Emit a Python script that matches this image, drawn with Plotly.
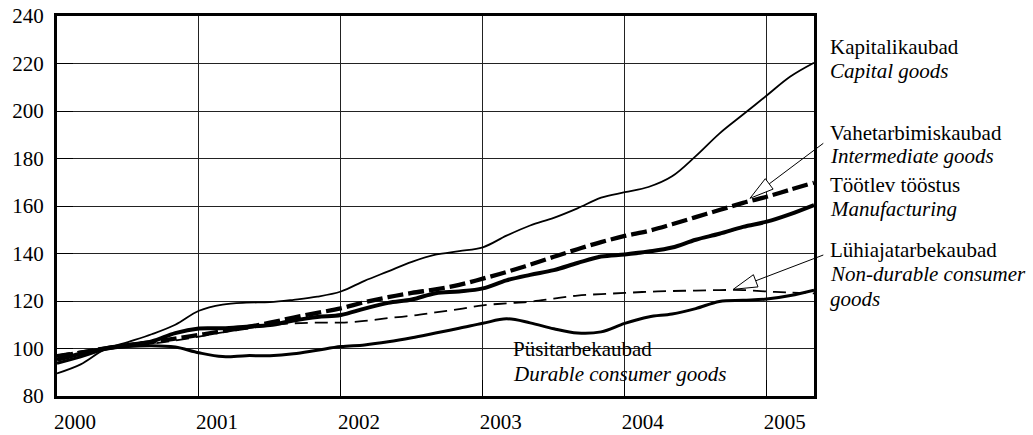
import plotly.graph_objects as go

# ---- data (index 2000 = 100), every second month from Jan 2000 ----
months = list(range(0, 65, 2))
capital = [89.5, 93.3, 99.5, 102.7, 106.0, 110.0, 115.9, 118.5, 119.3, 119.5, 120.5,
           121.8, 124.0, 128.5, 132.5, 136.5, 139.5, 141.0, 142.6, 147.5, 151.8, 155.0,
           159.0, 163.5, 165.8, 168.0, 172.5, 181.0, 190.5, 198.5, 206.5, 214.5, 220.3]
intermediate = [96.5, 98.3, 100.0, 101.3, 102.7, 104.2, 105.7, 107.3, 108.9, 110.9, 113.0,
                115.0, 116.9, 119.5, 121.6, 123.4, 124.9, 126.8, 129.4, 132.2, 135.3, 138.6,
                141.8, 144.8, 147.4, 149.5, 152.3, 155.3, 158.3, 161.3, 163.9, 166.9, 169.8]
manufacturing = [95.2, 97.8, 100.0, 101.5, 103.0, 106.5, 108.4, 108.5, 109.2, 109.9, 111.8,
                 113.3, 114.1, 116.8, 119.2, 120.6, 123.3, 124.0, 125.3, 128.7, 131.0, 133.0,
                 136.0, 138.7, 139.6, 140.8, 142.5, 145.8, 148.3, 151.2, 153.4, 156.6, 160.4]
non_durable = [97.3, 98.8, 100.0, 101.0, 102.0, 103.4, 105.0, 106.8, 108.3, 109.8, 110.6,
               110.9, 110.9, 111.6, 112.8, 113.8, 115.2, 116.6, 118.2, 119.0, 119.7, 121.0,
               122.3, 122.9, 123.4, 123.9, 124.2, 124.4, 124.6, 124.6, 124.0, 123.6, 123.2]
durable = [93.8, 96.5, 99.6, 100.8, 101.2, 100.6, 98.2, 96.6, 97.0, 97.0, 97.8,
           99.3, 100.8, 101.5, 102.8, 104.5, 106.5, 108.5, 110.6, 112.5, 110.8, 108.3,
           106.5, 107.0, 110.6, 113.3, 114.5, 116.8, 119.8, 120.3, 120.8, 122.3, 124.6]

year_ticks = [2000, 2001, 2002, 2003, 2004, 2005]
year_labels = ["2000", "2001", "2002", "2003", "2004", "2005"]
y_ticks = [80, 100, 120, 140, 160, 180, 200, 220, 240]

labels_right = [
    ("Kapitalikaubad", 47), ("<i>Capital goods</i>", 71),
    ("Vahetarbimiskaubad", 132.5), ("<i>Intermediate goods</i>", 155.5),
    ("Töötlev tööstus", 185), ("<i>Manufacturing</i>", 209),
    ("Lühiajatarbekaubad", 249.5), ("<i>Non-durable consumer</i>", 274),
    ("<i>goods</i>", 298.5),
]
labels_inside = [("Püsitarbekaubad", 349), ("<i>Durable consumer goods</i>", 373.5)]

x = [2000 + m / 12 for m in months]

W, H = 1033, 435
L, R, T, B = 57, 814, 16, 396
FONT = "'Liberation Serif', 'Times New Roman', Times, 'DejaVu Serif', serif"


def px(v):
    return (v - L) / (R - L)


def py(v):
    return (B - v) / (B - T)


fig = go.Figure()
common = dict(mode="lines", line_shape="spline", hoverinfo="skip", showlegend=False)
fig.add_trace(go.Scatter(x=x, y=capital, line=dict(color="black", width=1.8), **common))
fig.add_trace(go.Scatter(x=x, y=non_durable,
                         line=dict(color="black", width=1.8, dash="13px,7px"), **common))
fig.add_trace(go.Scatter(x=x, y=durable, line=dict(color="black", width=3), **common))
fig.add_trace(go.Scatter(x=x, y=manufacturing, line=dict(color="black", width=4), **common))
fig.add_trace(go.Scatter(x=x, y=intermediate,
                         line=dict(color="black", width=4.3, dash="16px,5px"), **common))

annotations = []
for txt, yc in labels_right:
    annotations.append(dict(text=txt, x=px(828), y=py(yc), xref="paper", yref="paper",
                            xanchor="left", yanchor="middle", showarrow=False,
                            font=dict(family=FONT, size=21, color="black")))
for txt, yc in labels_inside:
    annotations.append(dict(text=txt, x=px(511), y=py(yc), xref="paper", yref="paper",
                            xanchor="left", yanchor="middle", showarrow=False,
                            font=dict(family=FONT, size=21, color="black")))

shapes = [
    # white box behind the durable goods label
    dict(type="rect", xref="paper", yref="paper", x0=px(502), x1=px(753),
         y0=py(388), y1=py(338), fillcolor="white", line=dict(width=0), layer="between"),
    # arrow to intermediate goods
    dict(type="line", xref="paper", yref="paper", x0=px(823.3), y0=py(143.3),
         x1=px(769.2), y1=py(183.9), line=dict(color="black", width=1)),
    dict(type="path", xref="paper", yref="paper",
         path=f"M {px(750)},{py(198.3)} L {px(773.1)},{py(189.1)} L {px(765.3)},{py(178.7)} Z",
         fillcolor="white", line=dict(color="black", width=1)),
    # arrow to non-durable consumer goods
    dict(type="line", xref="paper", yref="paper", x0=px(823.3), y0=py(255),
         x1=px(755.7), y1=py(280.8), line=dict(color="black", width=1)),
    dict(type="path", xref="paper", yref="paper",
         path=f"M {px(733.3)},{py(289.3)} L {px(758)},{py(286.9)} L {px(753.4)},{py(274.7)} Z",
         fillcolor="white", line=dict(color="black", width=1)),
]

fig.update_layout(
    width=W, height=H,
    margin=dict(l=L, r=W - R, t=T, b=H - B, autoexpand=False),
    paper_bgcolor="white", plot_bgcolor="white",
    font=dict(family=FONT, size=21, color="black"),
    annotations=annotations, shapes=shapes,
)
fig.update_xaxes(range=[2000, 2000 + 64 / 12], tickvals=year_ticks, ticktext=year_labels,
                 showgrid=True, gridcolor="#222", gridwidth=1, zeroline=False,
                 showline=True, linecolor="black", linewidth=3, mirror=True,
                 ticks="inside", ticklen=16, tickcolor="black", tickwidth=1,
                 ticklabelshift=18, ticklabelstandoff=5,
                 tickfont=dict(family=FONT, size=21, color="black"))
fig.update_yaxes(range=[80, 240], tickvals=y_ticks,
                 showgrid=True, gridcolor="#222", gridwidth=1, zeroline=False,
                 showline=True, linecolor="black", linewidth=3, mirror=True,
                 ticks="inside", ticklen=16, tickcolor="black", tickwidth=1,
                 ticklabelstandoff=6,
                 tickfont=dict(family=FONT, size=21, color="black"))

fig.write_html("out.html", config={"displayModeBar": False},
               post_script="document.body.style.margin='0';document.body.style.padding='0';")
